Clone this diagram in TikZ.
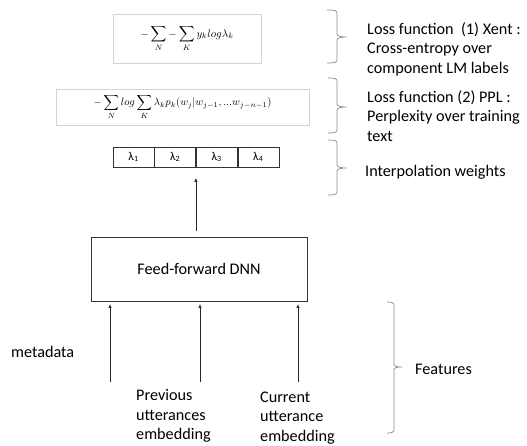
\documentclass[tikz,border=0pt]{standalone}
\usepackage[no-math]{fontspec}
\setmainfont{Carlito}
\usetikzlibrary{arrows.meta}
\definecolor{boxgray}{HTML}{D4D4D4}
\definecolor{bracegray}{HTML}{8C8C8C}
\newcommand\drawbrace[6]{%
  \draw[bracestyle] (#1,#4) .. controls (#2-3,#4) and (#2,#4+0.5) .. (#2,#4+3) -- (#2,#5-3)
     .. controls (#2,#5-0.5) and (#3-5,#5) .. (#3,#5)
     (#3,#5) .. controls (#3-5,#5) and (#2,#5+0.5) .. (#2,#5+3) -- (#2,#6-3)
     .. controls (#2,#6-0.5) and (#2-3,#6) .. (#1,#6);}
\begin{document}
\begin{tikzpicture}[x=1pt,y=-1pt,
  lbl/.style={font=\fontsize{16.2}{19.5}\selectfont, inner sep=0pt, align=left, anchor=west},
  fbox/.style={draw=boxgray, line width=0.6pt, inner sep=0pt},
  cell/.style={draw=black!80, line width=0.6pt, minimum width=41pt, minimum height=20pt, inner sep=0pt, font=\fontsize{12}{14}\selectfont},
  arr/.style={line width=0.6pt, draw=black!85, -{Triangle[length=3.5pt,width=3pt]}},
  bracestyle/.style={draw=bracegray, line width=0.7pt},
  dnnbox/.style={draw=black!80, line width=0.8pt, minimum width=216pt, minimum height=64pt, inner sep=0pt, font=\fontsize{16.2}{19.5}\selectfont}]
\useasboundingbox (0,0) rectangle (527,445);

% formula boxes
\node[fbox, minimum width=148pt, minimum height=49pt] (f1) at (187,38.5)
  {\scalebox{1.1}{$\displaystyle -\sum_{N} -\sum_{K} y_k log\lambda_k$}};
\node[fbox, minimum width=253pt, minimum height=36pt] (f2) at (182.5,107)
  {\scalebox{1.07}{$\displaystyle -\sum_{N} log \sum_{K} \lambda_k p_k(w_j|w_{j-1},...w_{j-n-1})$}};

% lambda table
\node[cell] (l1) at (133.5,157) {λ\textsubscript{1}};
\node[cell, anchor=west] (l2) at (l1.east) {λ\textsubscript{2}};
\node[cell, anchor=west] (l3) at (l2.east) {λ\textsubscript{3}};
\node[cell, anchor=west] (l4) at (l3.east) {λ\textsubscript{4}};

% DNN
\node[dnnbox] (dnn) at (199,269) {Feed-forward DNN};

% output arrow
\draw[arr, shorten <=6pt, shorten >=11pt] (dnn.north -| l2.south east) -- (l2.south east);

% input arrows
\coordinate (in1) at (110,382);
\coordinate (in2) at (200,382);
\coordinate (in3) at (298,382);
\draw[arr, shorten >=3pt] (in1) -- (in1 |- dnn.south);
\draw[arr, shorten >=3pt] (in2) -- (in2 |- dnn.south);
\draw[arr, shorten >=3pt] (in3) -- (in3 |- dnn.south);

% labels
\node[lbl] (t1) at (367,49) {Loss function\ \ (1) Xent :\\Cross-entropy over\\component LM labels};
\node[lbl] (t2) at (367,116) {Loss function (2) PPL :\\Perplexity over training\\text};
\node[lbl] (t3) at (365,172) {Interpolation weights};
\node[lbl] (t4) at (415,369) {Features};
\node[lbl] (t5) at (11,352) {metadata};
\node[lbl] (t6) at (136,416) {Previous\\utterances\\embedding};
\node[lbl] (t7) at (260,418) {Current\\utterance\\embedding};

% braces
\drawbrace{327}{337}{347}{10}{37}{63}
\drawbrace{328}{337}{347}{78}{107}{133}
\drawbrace{328}{337}{347}{140}{168}{195}
\drawbrace{387}{394}{402}{302}{367}{433}
\end{tikzpicture}
\end{document}
